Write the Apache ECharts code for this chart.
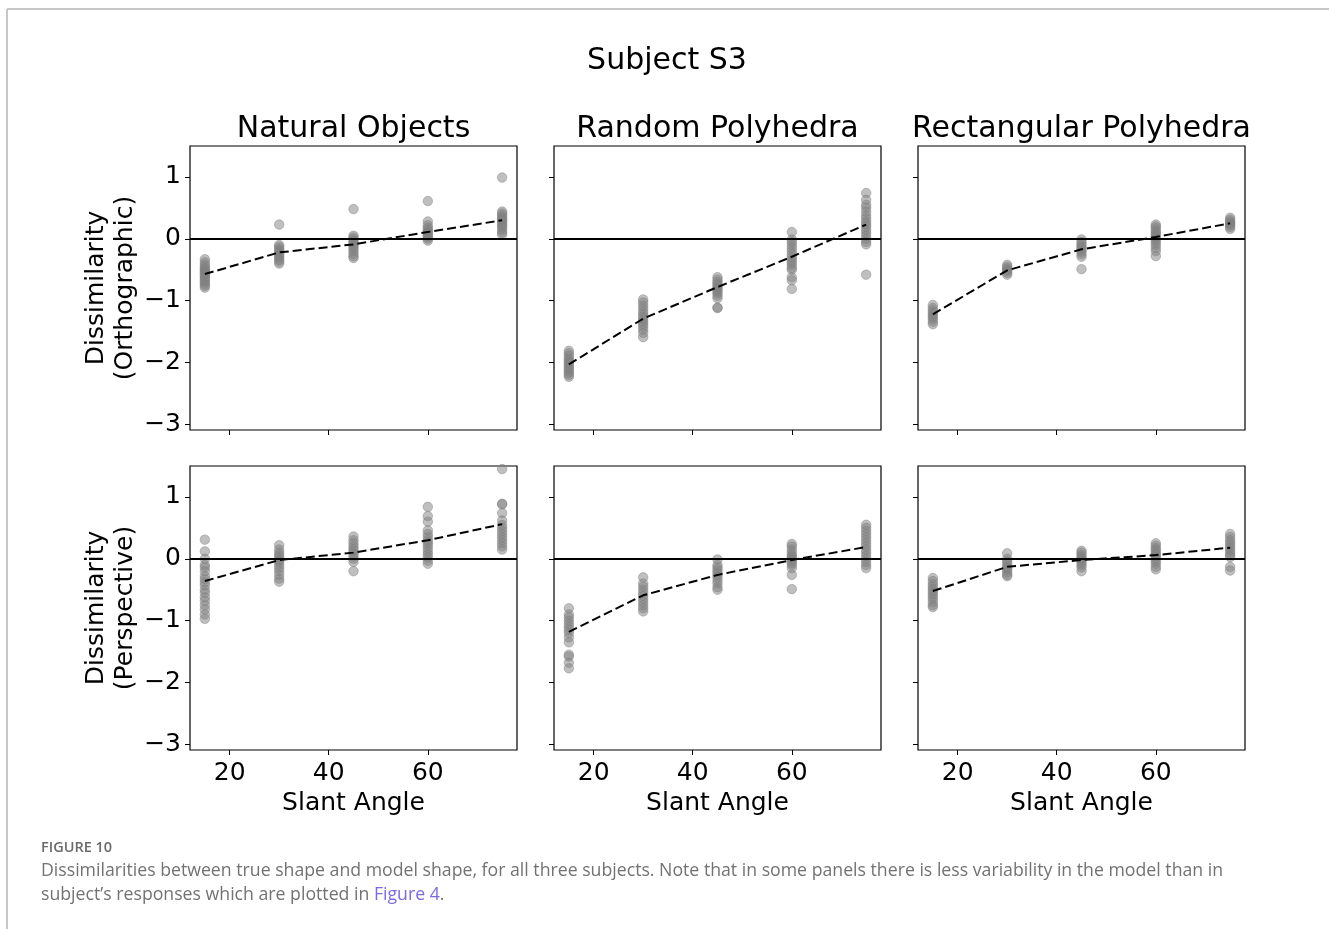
<!DOCTYPE html>
<html>
<head>
<meta charset="utf-8">
<script src="https://cdn.jsdelivr.net/npm/echarts@6/dist/echarts.min.js"></script>
<style>
  html, body { margin: 0; padding: 0; background: #fff; }
  #chart { width: 1329px; height: 929px; }
</style>
</head>
<body>
<div id="chart"></div>
<script>
// Slant angles (degrees) shared by every panel
const slantAngles = [15, 30, 45, 60, 75];
const xTicks = [20, 40, 60];
const yTicks = [-3, -2, -1, 0, 1];
const panelTitles = ['Natural Objects', 'Random Polyhedra', 'Rectangular Polyhedra'];
const rowLabels = ['Dissimilarity\n(Orthographic)', 'Dissimilarity\n(Perspective)'];

// Orthographic row: per-angle dissimilarities for each stimulus set
const naturalOrtho = [
  [-0.33, -0.38, -0.42, -0.45, -0.48, -0.50, -0.52, -0.55, -0.57, -0.60, -0.62, -0.65, -0.68, -0.70, -0.73, -0.76, -0.79],
  [0.23, -0.10, -0.13, -0.16, -0.19, -0.22, -0.25, -0.28, -0.31, -0.34, -0.37, -0.40],
  [0.48, 0.05, 0.02, -0.01, -0.04, -0.07, -0.10, -0.13, -0.16, -0.20, -0.24, -0.28, -0.31],
  [0.61, 0.28, 0.22, 0.18, 0.15, 0.12, 0.10, 0.08, 0.05, 0.03, 0.00, -0.03],
  [0.99, 0.44, 0.41, 0.38, 0.35, 0.32, 0.30, 0.27, 0.24, 0.21, 0.18, 0.14, 0.10, 0.07]
];
const naturalOrthoMean = [-0.57, -0.22, -0.09, 0.11, 0.30];

const randomOrtho = [
  [-1.81, -1.85, -1.89, -1.93, -1.96, -1.99, -2.02, -2.05, -2.08, -2.11, -2.14, -2.17, -2.20, -2.23],
  [-0.98, -1.03, -1.08, -1.13, -1.18, -1.22, -1.26, -1.30, -1.34, -1.38, -1.42, -1.47, -1.52, -1.59],
  [-0.62, -0.66, -0.70, -0.73, -0.76, -0.79, -0.82, -0.85, -0.88, -0.92, -0.96, -1.11, -1.12],
  [0.11, -0.01, -0.05, -0.10, -0.15, -0.20, -0.25, -0.30, -0.34, -0.38, -0.42, -0.47, -0.50, -0.62, -0.67, -0.81],
  [0.74, 0.63, 0.55, 0.50, 0.44, 0.38, 0.33, 0.28, 0.24, 0.20, 0.15, 0.10, 0.05, 0.00, -0.05, -0.09, -0.58]
];
const randomOrthoMean = [-2.03, -1.29, -0.78, -0.29, 0.23];

const rectOrtho = [
  [-1.07, -1.12, -1.16, -1.20, -1.23, -1.26, -1.30, -1.34, -1.38],
  [-0.42, -0.45, -0.48, -0.50, -0.52, -0.55, -0.58],
  [-0.01, -0.05, -0.09, -0.12, -0.15, -0.18, -0.21, -0.25, -0.29, -0.49],
  [0.23, 0.20, 0.17, 0.13, 0.10, 0.07, 0.04, 0.01, -0.02, -0.06, -0.10, -0.15, -0.20, -0.28],
  [0.34, 0.31, 0.28, 0.26, 0.24, 0.22, 0.19, 0.16]
];
const rectOrthoMean = [-1.22, -0.51, -0.17, 0.03, 0.25];

// Perspective row
const naturalPersp = [
  [0.31, 0.12, 0.00, -0.10, -0.14, -0.20, -0.28, -0.33, -0.38, -0.43, -0.50, -0.55, -0.62, -0.68, -0.75, -0.82, -0.90, -0.97],
  [0.22, 0.15, 0.10, 0.06, 0.02, -0.02, -0.05, -0.10, -0.15, -0.20, -0.26, -0.32, -0.37],
  [0.36, 0.30, 0.25, 0.20, 0.16, 0.12, 0.08, 0.04, 0.00, -0.05, -0.20],
  [0.84, 0.69, 0.60, 0.46, 0.40, 0.35, 0.30, 0.26, 0.22, 0.17, 0.12, 0.07, 0.02, -0.03, -0.08],
  [1.45, 0.89, 0.88, 0.74, 0.62, 0.55, 0.50, 0.45, 0.40, 0.35, 0.30, 0.25, 0.20, 0.15]
];
const naturalPerspMean = [-0.36, -0.02, 0.10, 0.30, 0.56];

const randomPersp = [
  [-0.80, -0.90, -0.95, -1.00, -1.05, -1.10, -1.15, -1.20, -1.27, -1.35, -1.55, -1.58, -1.68, -1.77],
  [-0.30, -0.40, -0.45, -0.50, -0.55, -0.60, -0.65, -0.70, -0.75, -0.80, -0.85],
  [-0.01, -0.10, -0.14, -0.18, -0.22, -0.26, -0.30, -0.35, -0.40, -0.46, -0.50],
  [0.24, 0.20, 0.15, 0.10, 0.06, 0.03, 0.00, -0.03, -0.07, -0.10, -0.15, -0.26, -0.49],
  [0.55, 0.50, 0.45, 0.40, 0.35, 0.30, 0.25, 0.20, 0.15, 0.10, 0.05, 0.00, -0.05, -0.10, -0.15]
];
const randomPerspMean = [-1.18, -0.59, -0.26, -0.02, 0.19];

const rectPersp = [
  [-0.31, -0.36, -0.41, -0.45, -0.49, -0.53, -0.57, -0.61, -0.65, -0.70, -0.75, -0.78],
  [0.09, 0.00, -0.04, -0.08, -0.12, -0.15, -0.18, -0.22, -0.26, -0.28],
  [0.13, 0.10, 0.06, 0.03, 0.00, -0.03, -0.06, -0.10, -0.14, -0.20],
  [0.25, 0.21, 0.17, 0.14, 0.10, 0.07, 0.04, 0.00, -0.04, -0.08, -0.13, -0.17],
  [0.40, 0.35, 0.30, 0.26, 0.22, 0.18, 0.14, 0.10, 0.06, 0.03, -0.13, -0.19]
];
const rectPerspMean = [-0.52, -0.13, -0.02, 0.06, 0.18];

const panels = [
  { points: naturalOrtho, mean: naturalOrthoMean },
  { points: randomOrtho, mean: randomOrthoMean },
  { points: rectOrtho, mean: rectOrthoMean },
  { points: naturalPersp, mean: naturalPerspMean },
  { points: randomPersp, mean: randomPerspMean },
  { points: rectPersp, mean: rectPerspMean }
];

// Panel frame geometry (pixels)
const colLeft = [190, 554, 918];
const rowTop = [146, 466];
const panelW = 327;
const panelH = 284;
const FONT = '"DejaVu Sans", sans-serif';

const minusFmt = v => (v < 0 ? '\u2212' + Math.abs(v) : String(v));

const grids = [], xAxes = [], yAxes = [], series = [];
panels.forEach((p, i) => {
  const row = Math.floor(i / 3), col = i % 3;
  grids.push({
    left: colLeft[col], top: rowTop[row], width: panelW, height: panelH,
    show: true, borderColor: '#000', borderWidth: 1.2, backgroundColor: 'transparent'
  });
  xAxes.push({
    gridIndex: i, type: 'value', min: 12, max: 78,
    axisLine: { show: false, onZero: false },
    splitLine: { show: false },
    axisTick: { show: true, customValues: xTicks, length: 5, lineStyle: { color: '#000', width: 1 } },
    axisLabel: {
      show: row === 1, customValues: xTicks, margin: 11,
      fontSize: 25, fontFamily: FONT, color: '#000'
    }
  });
  yAxes.push({
    gridIndex: i, type: 'value', min: -3.09, max: 1.5,
    axisLine: { show: false, onZero: false },
    splitLine: { show: false },
    axisTick: { show: true, customValues: yTicks, length: 5, lineStyle: { color: '#000', width: 1 } },
    axisLabel: {
      show: col === 0, customValues: yTicks, margin: 9,
      fontSize: 25, fontFamily: FONT, color: '#000', formatter: minusFmt,
      padding: [3, 0, 0, 0]
    }
  });
  const pts = [];
  p.points.forEach((vals, k) => vals.forEach(v => pts.push([slantAngles[k], v])));
  series.push({
    type: 'scatter', xAxisIndex: i, yAxisIndex: i, data: pts,
    symbolSize: 9.5, silent: true,
    itemStyle: { color: 'rgba(128,128,128,0.5)', borderColor: 'rgba(128,128,128,0.45)', borderWidth: 1, opacity: 1 },
    markLine: {
      silent: true, symbol: 'none', animation: false,
      label: { show: false },
      lineStyle: { color: '#000', type: 'solid', width: 2.2 },
      data: [{ yAxis: 0 }]
    },
    z: 2
  });
  series.push({
    type: 'line', xAxisIndex: i, yAxisIndex: i,
    data: p.mean.map((v, k) => [slantAngles[k], v]),
    showSymbol: false, symbol: 'none', silent: true,
    lineStyle: { color: '#000', width: 2, type: [9, 4] },
    z: 5
  });
});

// Texts: figure title, panel titles, axis names, caption, outer frame
const graphics = [
  { type: 'line', shape: { x1: 7, y1: 9, x2: 1329, y2: 9 }, style: { stroke: '#b4b4b4', lineWidth: 1.5 } },
  { type: 'line', shape: { x1: 7, y1: 9, x2: 7, y2: 929 }, style: { stroke: '#b4b4b4', lineWidth: 1.5 } },
  { type: 'text', x: 667, y: 61, style: { text: 'Subject S3', font: '30px ' + FONT, fill: '#000', textAlign: 'center', textVerticalAlign: 'middle' } }
];
panelTitles.forEach((t, c) => {
  graphics.push({ type: 'text', x: colLeft[c] + panelW / 2, y: 129,
    style: { text: t, font: '30px ' + FONT, fill: '#000', textAlign: 'center', textVerticalAlign: 'middle' } });
  graphics.push({ type: 'text', x: colLeft[c] + panelW / 2, y: 803,
    style: { text: 'Slant Angle', font: '25px ' + FONT, fill: '#000', textAlign: 'center', textVerticalAlign: 'middle' } });
});
rowLabels.forEach((t, r) => {
  graphics.push({ type: 'text', x: 111, y: rowTop[r] + panelH / 2, rotation: Math.PI / 2,
    style: { text: t, font: '25px ' + FONT, lineHeight: 29, fill: '#000', textAlign: 'center', textVerticalAlign: 'middle' } });
});
graphics.push(
  { type: 'text', x: 41, y: 848, style: { text: 'FIGURE 10', font: '600 14.5px "Open Sans", sans-serif', fill: '#6a6a6a', textVerticalAlign: 'middle' } },
  { type: 'text', x: 41, y: 871, style: { text: 'Dissimilarities between true shape and model shape, for all three subjects. Note that in some panels there is less variability in the model than in', font: '17.7px "Open Sans", sans-serif', fill: '#727272', textVerticalAlign: 'middle' } },
  { type: 'text', x: 41, y: 895, style: {
      text: '{a|subject\u2019s responses which are plotted in }{b|Figure 4}{a|.}',
      textVerticalAlign: 'middle',
      rich: {
        a: { font: '17.7px "Open Sans", sans-serif', fill: '#727272', color: '#727272' },
        b: { font: '17.7px "Open Sans", sans-serif', fill: '#7a6ae6', color: '#7a6ae6' }
      }
  } }
);

const chart = echarts.init(document.getElementById('chart'), null, { renderer: 'canvas' });
chart.setOption({
  backgroundColor: '#fff',
  animation: false,
  grid: grids,
  xAxis: xAxes,
  yAxis: yAxes,
  series: series,
  graphic: graphics
});
</script>
</body>
</html>
